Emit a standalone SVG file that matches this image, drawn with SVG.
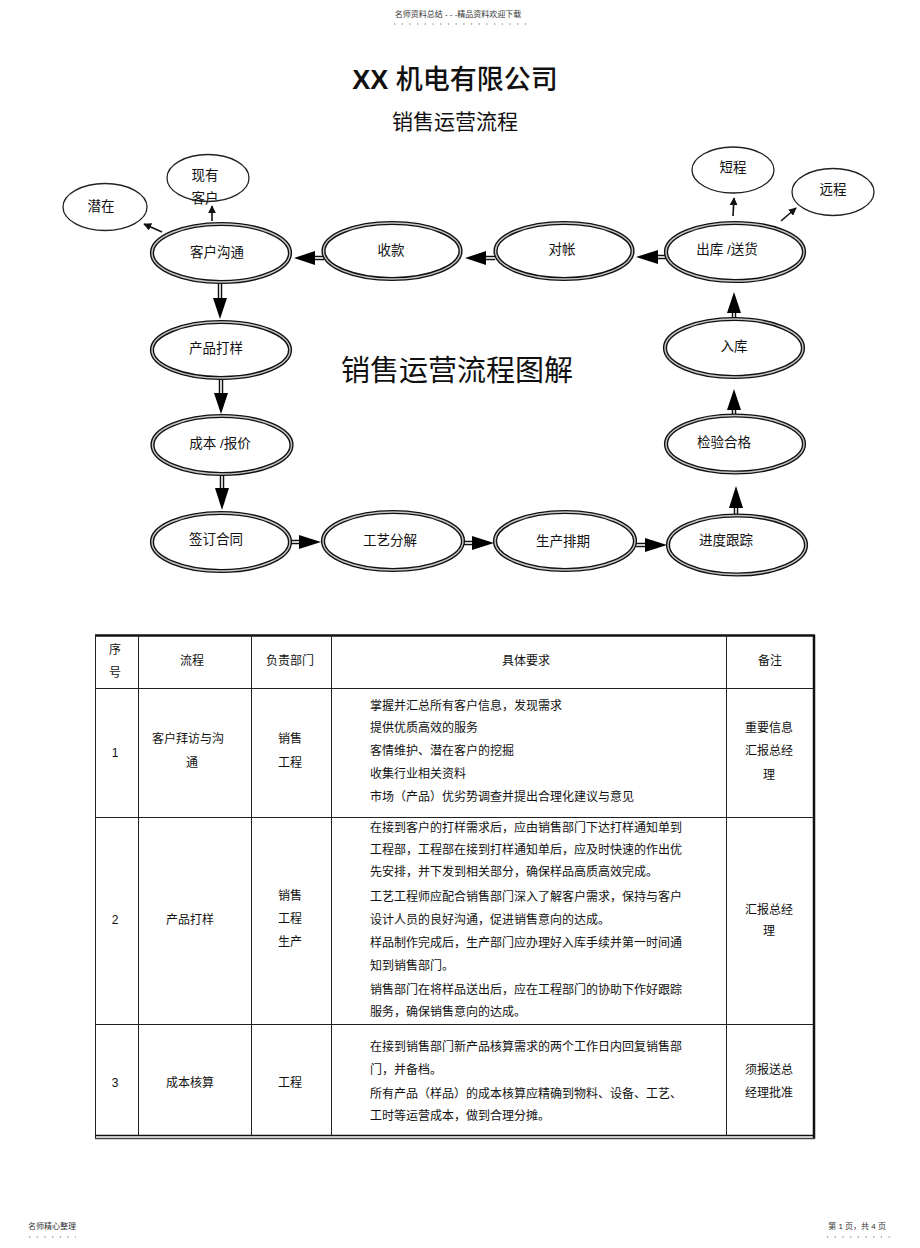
<svg xmlns="http://www.w3.org/2000/svg" width="920" height="1248" viewBox="0 0 920 1248">
<style>
text{font-family:"Liberation Sans","Noto Sans CJK SC",sans-serif;fill:#111}
.dbl-o{fill:#fff;stroke:#111;stroke-width:4.2}
.dbl-i{fill:none;stroke:#c4c4c4;stroke-width:1.4}
.sgl{fill:#fff;stroke:#222;stroke-width:1.3}
.nt{font-size:13.5px;text-anchor:middle}
.sh-o{stroke:#111;stroke-width:4.5;fill:none}
.sh-i{stroke:#fff;stroke-width:1.6;fill:none}
.tri{fill:#000}
.thin{stroke:#111;stroke-width:1.6;fill:none}
.tb{font-size:12px}
.tc{font-size:12px;text-anchor:middle}
.grid{stroke:#222;stroke-width:1;fill:none}
.tiny{font-size:8px;fill:#333}
.dots{stroke:#666;stroke-width:1;stroke-dasharray:1.2 6.5;fill:none}
</style>
<defs>
<marker id="sm" viewBox="0 0 10 10" refX="9" refY="5" markerWidth="5" markerHeight="5" orient="auto"><path d="M0,0 L10,5 L0,10 z" fill="#111"/></marker>
</defs>
<rect width="920" height="1248" fill="#fff"/>

<g id="page-header">
<text x="458" y="17" class="tiny" text-anchor="middle">名师资料总结 - - -精品资料欢迎下载</text>
<line x1="394" y1="24" x2="528" y2="24" class="dots"/>
</g>
<g id="title">
<text x="455" y="89" font-size="27" text-anchor="middle"><tspan font-weight="bold">XX</tspan> <tspan font-weight="500">机电有限公司</tspan></text>
<text x="455" y="129" font-size="21" text-anchor="middle">销售运营流程</text>
<text x="457" y="381" font-size="29" text-anchor="middle">销售运营流程图解</text>
</g>

<g id="connectors">
<line x1="162" y1="232" x2="144" y2="224" class="thin" marker-end="url(#sm)"/>
<line x1="212" y1="221" x2="212" y2="206" class="thin" marker-end="url(#sm)"/>
<line x1="733" y1="216" x2="734" y2="198" class="thin" marker-end="url(#sm)"/>
<line x1="781" y1="221" x2="796" y2="208" class="thin" marker-end="url(#sm)"/>
<path d="M658,257 H667" class="sh-o"/><path d="M658,257 H667" class="sh-i"/><polygon points="636,257 658,250 658,264" class="tri"/>
<path d="M486,258 H495" class="sh-o"/><path d="M486,258 H495" class="sh-i"/><polygon points="465,258 486,251 486,265" class="tri"/>
<path d="M315,258 H324" class="sh-o"/><path d="M315,258 H324" class="sh-i"/><polygon points="294,258 315,251 315,265" class="tri"/>
<path d="M220,283 V299" class="sh-o"/><path d="M220,283 V299" class="sh-i"/><polygon points="220,319 213,298 227,298" class="tri"/>
<path d="M221,378 V394" class="sh-o"/><path d="M221,378 V394" class="sh-i"/><polygon points="221,414 214,393 228,393" class="tri"/>
<path d="M222,474 V489" class="sh-o"/><path d="M222,474 V489" class="sh-i"/><polygon points="222,510 215,488 229,488" class="tri"/>
<path d="M291,542 H300" class="sh-o"/><path d="M291,542 H300" class="sh-i"/><polygon points="321,542 299,535 299,549" class="tri"/>
<path d="M463,543 H473" class="sh-o"/><path d="M463,543 H473" class="sh-i"/><polygon points="494,543 472,536 472,550" class="tri"/>
<path d="M636,545 H646" class="sh-o"/><path d="M636,545 H646" class="sh-i"/><polygon points="667,545 645,538 645,552" class="tri"/>
<path d="M736,516 V507" class="sh-o"/><path d="M736,516 V507" class="sh-i"/><polygon points="736,486 729,508 743,508" class="tri"/>
<path d="M734,416 V409" class="sh-o"/><path d="M734,416 V409" class="sh-i"/><polygon points="734,389 727,410 741,410" class="tri"/>
<path d="M734,319 V312" class="sh-o"/><path d="M734,319 V312" class="sh-i"/><polygon points="734,292 727,313 741,313" class="tri"/>
</g>

<g id="n-qianzai"><ellipse cx="105" cy="207" rx="42" ry="23.5" class="sgl"/><text x="101" y="211" class="nt">潜在</text></g>
<g id="n-xianyou"><ellipse cx="208" cy="178" rx="41" ry="23.5" class="sgl"/><text x="205" y="180" class="nt">现有</text><text x="205" y="203" class="nt">客户</text></g>
<g id="n-duancheng"><ellipse cx="733" cy="170" rx="41" ry="23" class="sgl"/><text x="733" y="172" class="nt">短程</text></g>
<g id="n-yuancheng"><ellipse cx="833" cy="192" rx="41" ry="23.5" class="sgl"/><text x="833" y="194" class="nt">远程</text></g>

<g id="n-kehugoutong"><ellipse cx="221" cy="253" rx="69" ry="29" class="dbl-o"/><ellipse cx="221" cy="253" rx="69" ry="29" class="dbl-i"/><text x="217" y="257" class="nt">客户沟通</text></g>
<g id="n-shoukuan"><ellipse cx="392" cy="251" rx="68.5" ry="28" class="dbl-o"/><ellipse cx="392" cy="251" rx="68.5" ry="28" class="dbl-i"/><text x="391" y="255" class="nt">收款</text></g>
<g id="n-duizhang"><ellipse cx="564" cy="251" rx="68.5" ry="28" class="dbl-o"/><ellipse cx="564" cy="251" rx="68.5" ry="28" class="dbl-i"/><text x="562" y="254" class="nt">对帐</text></g>
<g id="n-chuku"><ellipse cx="735" cy="252" rx="69" ry="29" class="dbl-o"/><ellipse cx="735" cy="252" rx="69" ry="29" class="dbl-i"/><text x="727" y="254" class="nt">出库 /送货</text></g>
<g id="n-chanpindayang"><ellipse cx="221" cy="350" rx="69" ry="28" class="dbl-o"/><ellipse cx="221" cy="350" rx="69" ry="28" class="dbl-i"/><text x="216" y="353" class="nt">产品打样</text></g>
<g id="n-chengben"><ellipse cx="222" cy="445" rx="69.5" ry="29" class="dbl-o"/><ellipse cx="222" cy="445" rx="69.5" ry="29" class="dbl-i"/><text x="220" y="448" class="nt">成本 /报价</text></g>
<g id="n-qianding"><ellipse cx="221" cy="542" rx="69" ry="29" class="dbl-o"/><ellipse cx="221" cy="542" rx="69" ry="29" class="dbl-i"/><text x="216" y="544" class="nt">签订合同</text></g>
<g id="n-gongyi"><ellipse cx="393" cy="541" rx="70" ry="29" class="dbl-o"/><ellipse cx="393" cy="541" rx="70" ry="29" class="dbl-i"/><text x="390" y="545" class="nt">工艺分解</text></g>
<g id="n-shengchan"><ellipse cx="565" cy="541" rx="70" ry="29" class="dbl-o"/><ellipse cx="565" cy="541" rx="70" ry="29" class="dbl-i"/><text x="563" y="546" class="nt">生产排期</text></g>
<g id="n-jindu"><ellipse cx="737" cy="545" rx="69" ry="29.5" class="dbl-o"/><ellipse cx="737" cy="545" rx="69" ry="29.5" class="dbl-i"/><text x="726" y="545" class="nt">进度跟踪</text></g>
<g id="n-jianyan"><ellipse cx="735" cy="444" rx="69" ry="28.5" class="dbl-o"/><ellipse cx="735" cy="444" rx="69" ry="28.5" class="dbl-i"/><text x="724" y="447" class="nt">检验合格</text></g>
<g id="n-ruku"><ellipse cx="734" cy="348" rx="69" ry="29" class="dbl-o"/><ellipse cx="734" cy="348" rx="69" ry="29" class="dbl-i"/><text x="734" y="351" class="nt">入库</text></g>

<g id="table">
<line x1="95" y1="635.5" x2="815" y2="635.5" stroke="#111" stroke-width="2.5"/>
<line x1="95.5" y1="635" x2="95.5" y2="1139" class="grid" stroke-width="1.4"/>
<line x1="814" y1="635" x2="814" y2="1139" stroke="#111" stroke-width="2.5"/>
<line x1="95" y1="1135.5" x2="815" y2="1135.5" stroke="#111" stroke-width="1.3"/>
<line x1="95" y1="1138.5" x2="815" y2="1138.5" stroke="#444" stroke-width="1.3"/>
<line x1="95" y1="688.5" x2="814" y2="688.5" class="grid" stroke-width="1.5"/>
<line x1="95" y1="817.5" x2="814" y2="817.5" class="grid" stroke-width="1.5"/>
<line x1="95" y1="1024.5" x2="814" y2="1024.5" class="grid" stroke-width="1.5"/>
<line x1="138.5" y1="635" x2="138.5" y2="1136" class="grid"/>
<line x1="251.5" y1="635" x2="251.5" y2="1136" class="grid"/>
<line x1="331.5" y1="635" x2="331.5" y2="1136" class="grid"/>
<line x1="726.5" y1="635" x2="726.5" y2="1136" class="grid"/>

<text x="115" y="654" class="tc">序</text>
<text x="115" y="677" class="tc">号</text>
<text x="192" y="665" class="tc">流程</text>
<text x="290" y="665" class="tc">负责部门</text>
<text x="526" y="665" class="tc">具体要求</text>
<text x="770" y="665" class="tc">备注</text>

<text x="115" y="757" class="tc">1</text>
<text x="188" y="743" class="tc">客户拜访与沟</text>
<text x="192" y="767" class="tc">通</text>
<text x="290" y="743" class="tc">销售</text>
<text x="290" y="767" class="tc">工程</text>
<text x="370" y="710" class="tb">掌握并汇总所有客户信息，发现需求</text>
<text x="370" y="732" class="tb">提供优质高效的服务</text>
<text x="370" y="755" class="tb">客情维护、潜在客户的挖掘</text>
<text x="370" y="778" class="tb">收集行业相关资料</text>
<text x="370" y="801" class="tb">市场（产品）优劣势调查并提出合理化建议与意见</text>
<text x="769" y="732" class="tc">重要信息</text>
<text x="769" y="755" class="tc">汇报总经</text>
<text x="769" y="779" class="tc">理</text>

<text x="115" y="924" class="tc">2</text>
<text x="190" y="924" class="tc">产品打样</text>
<text x="290" y="900" class="tc">销售</text>
<text x="290" y="923" class="tc">工程</text>
<text x="290" y="946" class="tc">生产</text>
<text x="370" y="832" class="tb">在接到客户的打样需求后，应由销售部门下达打样通知单到</text>
<text x="370" y="854" class="tb">工程部，工程部在接到打样通知单后，应及时快速的作出优</text>
<text x="370" y="876" class="tb">先安排，并下发到相关部分，确保样品高质高效完成。</text>
<text x="370" y="901" class="tb">工艺工程师应配合销售部门深入了解客户需求，保持与客户</text>
<text x="370" y="924" class="tb">设计人员的良好沟通，促进销售意向的达成。</text>
<text x="370" y="947" class="tb">样品制作完成后，生产部门应办理好入库手续并第一时间通</text>
<text x="370" y="970" class="tb">知到销售部门。</text>
<text x="370" y="994" class="tb">销售部门在将样品送出后，应在工程部门的协助下作好跟踪</text>
<text x="370" y="1016" class="tb">服务，确保销售意向的达成。</text>
<text x="769" y="914" class="tc">汇报总经</text>
<text x="769" y="935" class="tc">理</text>

<text x="115" y="1087" class="tc">3</text>
<text x="190" y="1087" class="tc">成本核算</text>
<text x="290" y="1087" class="tc">工程</text>
<text x="370" y="1051" class="tb">在接到销售部门新产品核算需求的两个工作日内回复销售部</text>
<text x="370" y="1074" class="tb">门，并备档。</text>
<text x="370" y="1098" class="tb">所有产品（样品）的成本核算应精确到物料、设备、工艺、</text>
<text x="370" y="1120" class="tb">工时等运营成本，做到合理分摊。</text>
<text x="769" y="1074" class="tc">须报送总</text>
<text x="769" y="1097" class="tc">经理批准</text>
</g>

<g id="page-footer">
<text x="28" y="1229" class="tiny" font-size="7.5">名师精心整理</text>
<line x1="29" y1="1237" x2="76" y2="1237" class="dots"/>
<text x="886" y="1229" class="tiny" font-size="7.5" text-anchor="end">第 1 页，共 4 页</text>
<line x1="827" y1="1237" x2="892" y2="1237" class="dots"/>
</g>
</svg>
